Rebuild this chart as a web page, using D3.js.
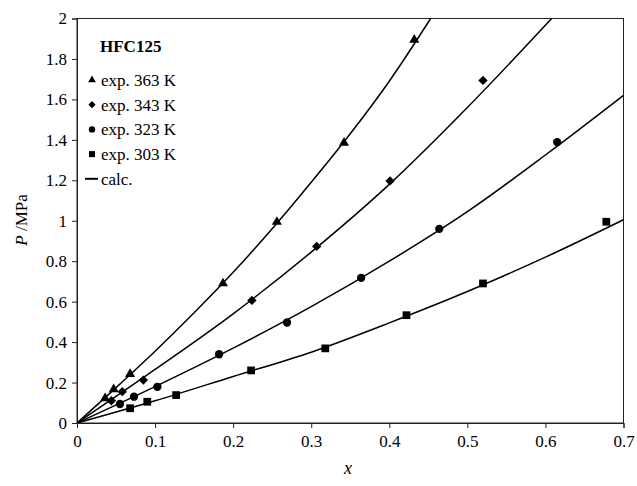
<!DOCTYPE html>
<html>
<head>
<meta charset="utf-8">
<script src="https://cdn.jsdelivr.net/npm/d3@7"></script>
<style>
  body { margin: 0; background: #fff; }
  svg { display: block; }
  svg text { font-family: "Liberation Serif", "Times New Roman", Times, serif !important; }
</style>
</head>
<body>
<svg id="chart" width="637" height="486"></svg>
<script>
// experimental points, x (mole fraction) and P (MPa)
var exp363x = [0.036, 0.047, 0.068, 0.187, 0.256, 0.342, 0.432]
var exp363p = [0.122, 0.166, 0.242, 0.69, 0.994, 1.385, 1.895]
var exp343x = [0.044, 0.058, 0.085, 0.224, 0.307, 0.401, 0.52]
var exp343p = [0.11, 0.155, 0.212, 0.606, 0.873, 1.197, 1.694]
var exp323x = [0.055, 0.073, 0.103, 0.182, 0.269, 0.364, 0.464, 0.615]
var exp323p = [0.094, 0.13, 0.179, 0.34, 0.497, 0.718, 0.96, 1.389]
var exp303x = [0.068, 0.09, 0.127, 0.223, 0.318, 0.422, 0.52, 0.678]
var exp303p = [0.073, 0.105, 0.138, 0.26, 0.369, 0.533, 0.69, 0.995]

// calculated curves
var calc363x = [0, 0.05, 0.1, 0.15, 0.2, 0.25, 0.3, 0.35, 0.4, 0.453]
var calc363p = [0, 0.175, 0.355, 0.545, 0.745, 0.96, 1.19, 1.43, 1.69, 2.0]
var calc343x = [0, 0.1, 0.2, 0.3, 0.4, 0.5, 0.608]
var calc343p = [0, 0.265, 0.54, 0.845, 1.18, 1.56, 2.0]
var calc323x = [0, 0.1, 0.2, 0.3, 0.4, 0.5, 0.6, 0.7]
var calc323p = [0, 0.18, 0.37, 0.575, 0.8, 1.045, 1.325, 1.62]
var calc303x = [0, 0.1, 0.2, 0.3, 0.4, 0.5, 0.6, 0.7]
var calc303p = [0, 0.11, 0.23, 0.35, 0.495, 0.65, 0.82, 1.005]

var xTicks = [0, 0.1, 0.2, 0.3, 0.4, 0.5, 0.6, 0.7]
var yTicks = [0, 0.2, 0.4, 0.6, 0.8, 1, 1.2, 1.4, 1.6, 1.8, 2]
var legendLabels = ["exp. 363 K", "exp. 343 K", "exp. 323 K", "exp. 303 K", "calc."]

var serif = '"Liberation Serif", "Times New Roman", Times, serif'
var margin = {left: 77, top: 18.5, right: 637 - 623.5, bottom: 486 - 423}
var width = 637 - margin.left - margin.right
var height = 486 - margin.top - margin.bottom

var svg = d3.select("#chart")
var g = svg.append("g").attr("transform", `translate(${margin.left},${margin.top})`)

var x = d3.scaleLinear().domain([0, 0.7]).range([0, width])
var y = d3.scaleLinear().domain([0, 2]).range([height, 0])

// box round the plot area
g.append("rect")
    .attr("width", width).attr("height", height)
    .attr("fill", "none").attr("stroke", "#222").attr("stroke-width", 1)

var xAxis = g.append("g")
    .attr("transform", `translate(0,${height})`)
    .call(d3.axisBottom(x).tickValues(xTicks).tickSize(5).tickPadding(7)
        .tickFormat(d => d === 0 ? "0" : d3.format(".1f")(d)))
var yAxis = g.append("g")
    .call(d3.axisLeft(y).tickValues(yTicks).tickSize(5).tickPadding(5)
        .tickFormat(d => d3.format("~g")(d)))

for (const ax of [xAxis, yAxis]) {
    ax.attr("font-family", serif)
    ax.select(".domain").attr("stroke", "#222")
    ax.selectAll(".tick line").attr("stroke", "#222")
    ax.selectAll("text").attr("font-size", 17).attr("fill", "#000")
}

var clip = svg.append("clipPath").attr("id", "plotclip")
    .append("rect").attr("width", width).attr("height", height)

var line = d3.line().x(d => x(d[0])).y(d => y(d[1])).curve(d3.curveMonotoneX)
var curves = [[calc363x, calc363p], [calc343x, calc343p], [calc323x, calc323p], [calc303x, calc303p]]
g.append("g").attr("clip-path", "url(#plotclip)")
    .selectAll("path")
    .data(curves)
    .join("path")
    .attr("d", c => line(d3.zip(c[0], c[1])))
    .attr("fill", "none")
    .attr("stroke", "#000")
    .attr("stroke-width", 1.5)

var shapes = [d3.symbolTriangle, d3.symbolDiamond2, d3.symbolCircle, d3.symbolSquare]
var sizes = [44, 56, 54, 60]
var series = [[exp363x, exp363p], [exp343x, exp343p], [exp323x, exp323p], [exp303x, exp303p]]
series.forEach((s, i) => {
    g.append("g")
        .selectAll("path")
        .data(d3.zip(s[0], s[1]))
        .join("path")
        .attr("transform", d => `translate(${x(d[0])},${y(d[1])})`)
        .attr("d", d3.symbol(shapes[i], sizes[i]))
        .attr("fill", "#000")
})

// legend
var leg = svg.append("g").attr("font-family", serif)
leg.append("text")
    .attr("x", 100).attr("y", 52)
    .attr("font-size", 17).attr("font-weight", "bold")
    .text("HFC125")
legendLabels.forEach((lab, i) => {
    var cy = 80 + i * 24.7
    if (i < 4) {
        leg.append("path")
            .attr("transform", `translate(92,${cy})`)
            .attr("d", d3.symbol(shapes[i], sizes[i] * 0.6)())
            .attr("fill", "#000")
    } else {
        leg.append("line")
            .attr("x1", 85).attr("x2", 98).attr("y1", cy).attr("y2", cy)
            .attr("stroke", "#000").attr("stroke-width", 2)
    }
    leg.append("text")
        .attr("x", 101).attr("y", cy).attr("dy", "0.35em")
        .attr("font-size", 17)
        .text(lab)
})

// axis titles
svg.append("text")
    .attr("x", 348).attr("y", 474)
    .attr("text-anchor", "middle")
    .attr("font-family", serif)
    .attr("font-size", 18).attr("font-style", "italic")
    .text("x")
var yt = svg.append("text")
    .attr("transform", "translate(27,220) rotate(-90)")
    .attr("text-anchor", "middle")
    .attr("font-family", serif)
    .attr("font-size", 17)
yt.append("tspan").attr("font-style", "italic").text("P")
yt.append("tspan").text(" /MPa")
</script>
</body>
</html>
